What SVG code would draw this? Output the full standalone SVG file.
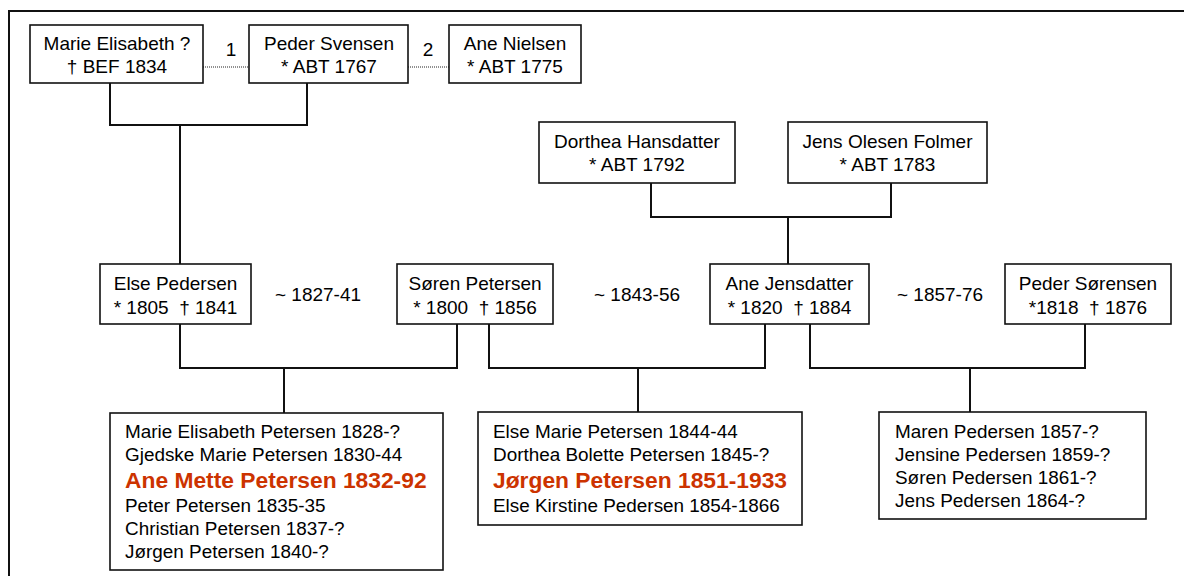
<svg xmlns="http://www.w3.org/2000/svg" width="1184" height="576" viewBox="0 0 1184 576">
<style>
.box{fill:#fff;stroke:#111;stroke-width:1.6}
.t{font-family:"Liberation Sans",Arial,sans-serif;font-size:19px;fill:#000;white-space:pre}
.k{font-family:"Liberation Sans",Arial,sans-serif;font-size:18.9px;fill:#000}
.c{text-anchor:middle}
.red{font-family:"Liberation Sans",Arial,sans-serif;font-size:22.8px;font-weight:bold;fill:#cc3300}
.ln{fill:none;stroke:#111;stroke-width:2}
.dot{fill:none;stroke:#222;stroke-width:1.2;stroke-dasharray:1 1}
</style>
<rect x="9" y="11" width="1200" height="600" fill="#fff" stroke="#111" stroke-width="2"/>
<g id="connectors">
<path class="dot" d="M203 67H249M408 67H449"/>
<path class="ln" d="M110 83V125H307V83M180 125V264"/>
<path class="ln" d="M651 183V217H891V183M788 217V264"/>
<path class="ln" d="M180 324V368H457V324M284 368V413"/>
<path class="ln" d="M489 324V368H765V324M638 368V412"/>
<path class="ln" d="M810 324V368H1085V324M970 368V412"/>
</g>
<g id="labels">
<text class="t c" x="231" y="56">1</text>
<text class="t c" x="428" y="56">2</text>
<text class="t c" x="318" y="301">~ 1827-41</text>
<text class="t c" x="637" y="301">~ 1843-56</text>
<text class="t c" x="940" y="301">~ 1857-76</text>
</g>
<g id="marie">
<rect class="box" x="30" y="25" width="173" height="58"/>
<text class="t c" x="117" y="50">Marie Elisabeth ?</text>
<text class="t c" x="117" y="73">† BEF 1834</text>
</g>
<g id="peder-svensen">
<rect class="box" x="249" y="25" width="159" height="58"/>
<text class="t c" x="329" y="50">Peder Svensen</text>
<text class="t c" x="329" y="73">* ABT 1767</text>
</g>
<g id="ane-nielsen">
<rect class="box" x="449" y="25" width="132" height="58"/>
<text class="t c" x="515" y="50">Ane Nielsen</text>
<text class="t c" x="515" y="73">* ABT 1775</text>
</g>
<g id="dorthea">
<rect class="box" x="539" y="122" width="196" height="61"/>
<text class="t c" x="637" y="148">Dorthea Hansdatter</text>
<text class="t c" x="637" y="171">* ABT 1792</text>
</g>
<g id="jens">
<rect class="box" x="788" y="122" width="199" height="61"/>
<text class="t c" x="887.5" y="148">Jens Olesen Folmer</text>
<text class="t c" x="887.5" y="171">* ABT 1783</text>
</g>
<g id="else">
<rect class="box" x="100" y="264" width="151" height="60"/>
<text class="t c" x="175.5" y="290">Else Pedersen</text>
<text class="t c" x="175.5" y="314">* 1805  † 1841</text>
</g>
<g id="soren">
<rect class="box" x="397" y="264" width="156" height="60"/>
<text class="t c" x="475" y="290">Søren Petersen</text>
<text class="t c" x="475" y="314">* 1800  † 1856</text>
</g>
<g id="ane-jensdatter">
<rect class="box" x="710" y="264" width="159" height="60"/>
<text class="t c" x="789.5" y="290">Ane Jensdatter</text>
<text class="t c" x="789.5" y="314">* 1820  † 1884</text>
</g>
<g id="peder-sorensen">
<rect class="box" x="1005" y="264" width="166" height="60"/>
<text class="t c" x="1088" y="290">Peder Sørensen</text>
<text class="t c" x="1088" y="314">*1818  † 1876</text>
</g>
<g id="children1">
<rect class="box" x="110" y="413" width="333" height="157"/>
<text class="k" x="125" y="438">Marie Elisabeth Petersen 1828-?</text>
<text class="k" x="125" y="461">Gjedske Marie Petersen 1830-44</text>
<text class="red" x="125" y="488">Ane Mette Petersen 1832-92</text>
<text class="k" x="125" y="512">Peter Petersen 1835-35</text>
<text class="k" x="125" y="535">Christian Petersen 1837-?</text>
<text class="k" x="125" y="558">Jørgen Petersen 1840-?</text>
</g>
<g id="children2">
<rect class="box" x="478" y="412" width="324" height="113"/>
<text class="k" x="493" y="438">Else Marie Petersen 1844-44</text>
<text class="k" x="493" y="461">Dorthea Bolette Petersen 1845-?</text>
<text class="red" x="493" y="488">Jørgen Petersen 1851-1933</text>
<text class="k" x="493" y="512">Else Kirstine Pedersen 1854-1866</text>
</g>
<g id="children3">
<rect class="box" x="879" y="412" width="267" height="107"/>
<text class="k" x="895" y="438">Maren Pedersen 1857-?</text>
<text class="k" x="895" y="461">Jensine Pedersen 1859-?</text>
<text class="k" x="895" y="484">Søren Pedersen 1861-?</text>
<text class="k" x="895" y="507">Jens Pedersen 1864-?</text>
</g>
</svg>
